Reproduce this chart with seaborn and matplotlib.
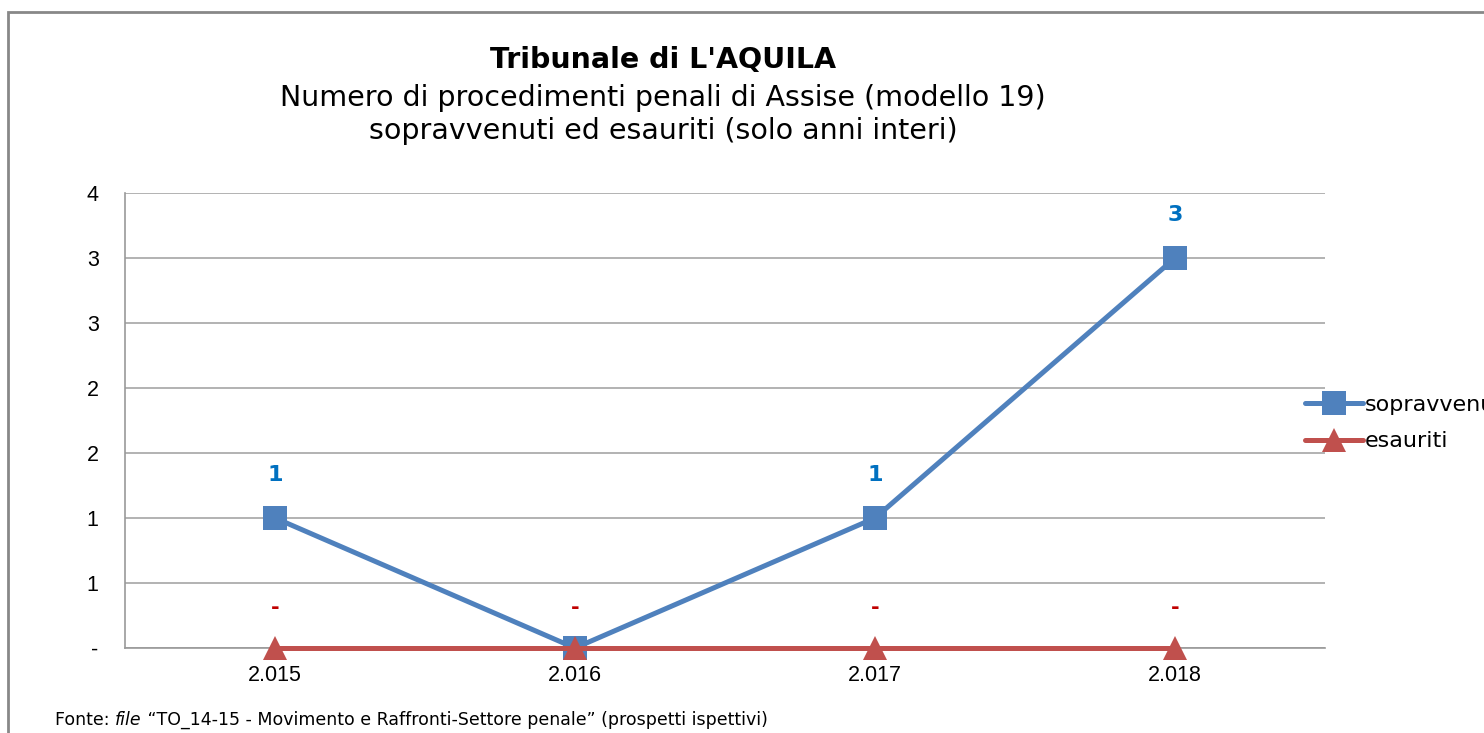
import pandas as pd
import seaborn as sns
import matplotlib.pyplot as plt
from matplotlib.patches import Rectangle
from matplotlib.ticker import FixedLocator, FixedFormatter

anni = ["2.015", "2.016", "2.017", "2.018"]
sopravvenuti = [1, 0, 1, 3]
esauriti = [0, 0, 0, 0]
y_ticks = [0, 0.5, 1, 1.5, 2, 2.5, 3, 3.5]
y_labels = ["-", "1", "1", "2", "2", "3", "3", "4"]

BLU = "#4F81BD"
ROSSO = "#C0504D"

df = pd.DataFrame({
    "anno": anni * 2,
    "valore": sopravvenuti + esauriti,
    "serie": ["sopravvenuti"] * len(anni) + ["esauriti"] * len(anni),
})

sns.set_style("white")
plt.rcParams["font.family"] = ["DejaVu Sans"]
plt.rcParams["text.color"] = "black"

fig = plt.figure(figsize=(14.84, 7.33), dpi=100)
ax = fig.add_axes([125 / 1484, 1 - 648 / 733, 1200 / 1484, 455 / 733])

sns.lineplot(data=df, x="anno", y="valore", hue="serie", style="serie",
             palette={"sopravvenuti": BLU, "esauriti": ROSSO},
             markers={"sopravvenuti": "s", "esauriti": "^"}, dashes=False,
             linewidth=3.6, markersize=17, markeredgewidth=0, ax=ax, zorder=3)
for line in ax.lines:
    line.set_clip_on(False)

ax.set_xlim(-0.5, len(anni) - 0.5)
ax.set_ylim(0, 3.5)
ax.yaxis.set_major_locator(FixedLocator(y_ticks))
ax.yaxis.set_major_formatter(FixedFormatter(y_labels))
ax.set_xticks(range(len(anni)))
ax.set_xticklabels(anni)
ax.set_xticks([i - 0.5 for i in range(len(anni) + 1)], minor=True)
ax.tick_params(axis="x", which="major", length=0, pad=12)
ax.tick_params(axis="x", which="minor", length=8, color="#999999", width=1.2, direction="out")
ax.tick_params(axis="y", length=9, color="#999999", width=1.2, direction="out", pad=10)
for lab in ax.get_xticklabels() + ax.get_yticklabels():
    lab.set_fontfamily("Liberation Sans")
    lab.set_fontsize(15.5)
    lab.set_color("black")
ax.set_xlabel("")
ax.set_ylabel("")
ax.grid(axis="y", color="#A6A6A6", linewidth=1.2)
ax.set_axisbelow(True)
for s in ["top", "right"]:
    ax.spines[s].set_visible(False)
for s in ["left", "bottom"]:
    ax.spines[s].set_color("#999999")
    ax.spines[s].set_linewidth(1.2)

# etichette dati
for i, v in enumerate(sopravvenuti):
    if v != 0:
        ax.annotate(f"{v:g}", (i, v), xytext=(0, 31), textcoords="offset points",
                    ha="center", va="center", color="#0070C0", fontsize=16, fontweight="bold", zorder=4)
for i, v in enumerate(esauriti):
    ax.annotate("-" if v == 0 else f"{v:g}", (i, v), xytext=(0, 29), textcoords="offset points",
                ha="center", va="center", color="#C00000", fontsize=15, fontweight="bold", zorder=5)

handles, labels = ax.get_legend_handles_labels()
ax.legend(handles, labels, loc="center left", bbox_to_anchor=(1296 / 1484, 1 - 423 / 733),
          bbox_transform=fig.transFigure, frameon=False, fontsize=16, handlelength=2.6,
          handletextpad=0.1, labelspacing=0.75, borderaxespad=0)

fig.text(663 / 1484, 1 - 60 / 733, "Tribunale di L'AQUILA", ha="center", va="center",
         fontsize=20.5, fontweight="bold")
fig.text(663 / 1484, 1 - 98 / 733, "Numero di procedimenti penali di Assise (modello 19)",
         ha="center", va="center", fontsize=20.5)
fig.text(663 / 1484, 1 - 131 / 733, "sopravvenuti ed esauriti (solo anni interi)",
         ha="center", va="center", fontsize=20.5)

t1 = fig.text(55 / 1484, 1 - 725 / 733, "Fonte: ", fontsize=12.5)
t2 = ax.annotate("file", xy=(1, 0), xycoords=t1, va="bottom", fontsize=12.5, fontstyle="italic",
                 annotation_clip=False)
ax.annotate(" \u201cTO_14-15 - Movimento e Raffronti-Settore penale\u201d (prospetti ispettivi)",
            xy=(1, 0), xycoords=t2, va="bottom", fontsize=12.5, annotation_clip=False)

fig.patches.append(Rectangle((8 / 1484, -0.1), 1.2, 1.1 - 12 / 733, transform=fig.transFigure,
                             fill=False, edgecolor="#888888", linewidth=2))

fig.savefig("out.png", dpi=100)
